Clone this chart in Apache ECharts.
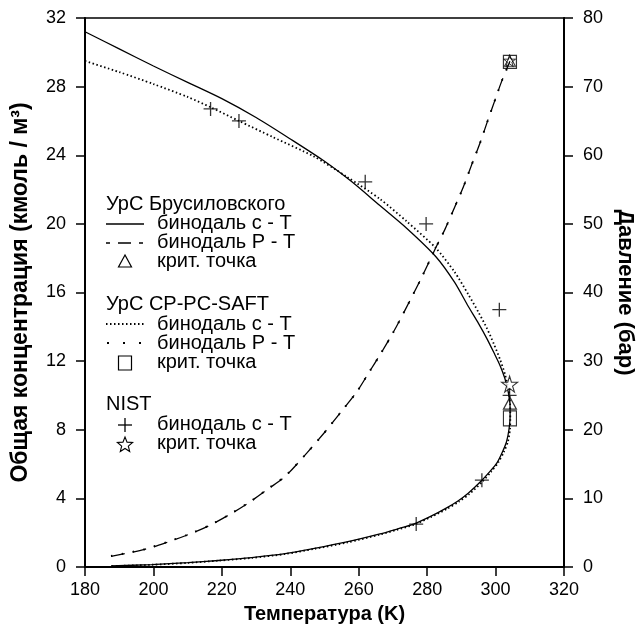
<!DOCTYPE html>
<html>
<head>
<meta charset="utf-8">
<script src="https://cdn.jsdelivr.net/npm/echarts@6/dist/echarts.min.js"></script>
<style>
  html, body { margin: 0; padding: 0; background: #fff; }
  #chart { width: 637px; height: 630px; }
</style>
</head>
<body>
<div id="chart"></div>
<script>
// CO2 phase envelope: total concentration (left axis) and saturation pressure (right axis)

// Brusilovsky EoS, c–T binodal (liquid branch down to the critical point, then vapour branch)
const brusT = [180, 190, 200, 210, 220, 230, 240, 250, 258, 266, 274, 282.5, 288, 292, 295, 297.5, 299.5, 301.3, 302.7, 303.6, 304.2,
               304.25, 303.9, 303.2, 302, 300.5, 298.5, 295.5, 292, 289, 285.7, 281, 276, 271, 266.2, 256.5, 246.7, 238.5, 228.7, 219, 210, 199.5, 187.6];
const brusC = [31.2, 30.2, 29.2, 28.25, 27.3, 26.2, 24.95, 23.65, 22.45, 21.1, 19.75, 18.1, 16.6, 15.2, 14.2, 13.3, 12.5, 11.75, 11.0, 10.3, 9.55,
               8.8, 8.0, 7.3, 6.7, 6.1, 5.6, 4.95, 4.3, 3.85, 3.45, 2.95, 2.5, 2.2, 1.93, 1.46, 1.07, 0.78, 0.55, 0.38, 0.25, 0.14, 0.06];

// CP-PC-SAFT EoS, c–T binodal
const saftT = [180, 190, 200, 210, 216.7, 225, 235, 246.7, 256.5, 266.2, 274, 282.5, 288, 292, 295, 297.5, 299.5, 301.3, 302.8, 303.8, 304.25, 304.3,
               304.2, 303.6, 302.4, 300.8, 298.7, 295.8, 292.3, 289.2, 285.9, 281.2, 276.2, 271.2, 266.4, 256.7, 246.8, 238.6, 228.8, 219, 210, 199.5, 187.6];
const saftC = [29.5, 28.85, 28.15, 27.4, 26.8, 26.0, 25.05, 23.95, 22.75, 21.45, 20.15, 18.6, 17.2, 15.9, 14.85, 13.9, 13.0, 12.1, 11.2, 10.3, 9.5, 8.66,
               8.0, 7.3, 6.7, 6.1, 5.55, 4.9, 4.25, 3.8, 3.4, 2.92, 2.47, 2.17, 1.9, 1.43, 1.05, 0.76, 0.53, 0.37, 0.24, 0.13, 0.05];

// P–T binodal (saturation pressure, bar)
const pvT   = [187.6, 197.5, 204.3, 210.2, 216.5, 222.4, 228.2, 233.6, 238.5, 245, 250, 254.5, 259.4, 263.3, 266.2, 270.1, 273.5, 278, 282.8,
               285.2, 288.1, 290.6, 293, 295.4, 297.6, 299.8, 301.8, 304.2];
const brusP = [1.56, 2.58, 3.65, 4.72, 6.08, 7.68, 9.48, 11.4, 13.2, 16.7, 19.6, 22.4, 25.5, 28.6, 30.9, 34.2, 37.4, 41.8, 46.8,
               49.2, 52.5, 55.4, 58.6, 61.7, 64.9, 68.0, 70.8, 73.7];
const saftP = [1.6, 2.6, 3.7, 4.75, 6.1, 7.7, 9.5, 11.45, 13.25, 16.7, 19.6, 22.4, 25.5, 28.6, 30.9, 34.2, 37.4, 41.8, 46.8,
               49.2, 52.5, 55.4, 58.6, 61.7, 64.9, 68.0, 70.8, 73.6];

// NIST reference data, c–T binodal
const nistT = [216.7, 225, 261.9, 279.7, 301.1, 304.1, 296, 276.8];
const nistC = [26.7, 26.0, 22.45, 20.0, 15.0, 10.0, 5.06, 2.5];

// Critical points: [T, c, P]
const critBrus = [304.2, 9.55, 73.7];
const critSaft = [304.2, 8.66, 73.6];
const critNist = [304.1, 10.66, 73.8];

const zip = (a, b) => a.map((v, i) => [v, b[i]]);

const FONT = 'Liberation Sans, Arial, sans-serif';
const STAR = 'path://M50,0 L61,35 L98,35 L68,57 L79,91 L50,70 L21,91 L32,57 L2,35 L39,35 Z';
const CROSS = 'path://M0,6 L12,6 M6,0 L6,12';

function starPoints(cx, cy, R, r) {
  const pts = [];
  for (let i = 0; i < 10; i++) {
    const a = -Math.PI / 2 + i * Math.PI / 5;
    const rr = i % 2 === 0 ? R : r;
    pts.push([cx + rr * Math.cos(a), cy + rr * Math.sin(a)]);
  }
  return pts;
}

const chart = echarts.init(document.getElementById('chart'), null, { renderer: 'canvas' });

const textStyle = { fill: '#000', font: '20px ' + FONT, textVerticalAlign: 'middle' };
const lx = 106, tx = 157, sx = 125;
const txt = (x, y, s) => ({ type: 'text', x: x, y: y, style: Object.assign({ text: s }, textStyle) });

// Legend, drawn as three groups with headings
const legendGraphics = [
  txt(lx, 204, 'УрС Брусиловского'),
  { type: 'line', shape: { x1: 106, y1: 224, x2: 144, y2: 224 }, style: { stroke: '#000', lineWidth: 1.3 } },
  txt(tx, 223.5, 'бинодаль с - Т'),
  { type: 'line', shape: { x1: 106, y1: 243, x2: 145, y2: 243 }, style: { stroke: '#000', lineWidth: 1.3, lineDash: [4, 8, 13, 8] } },
  txt(tx, 242.5, 'бинодаль P - Т'),
  { type: 'polygon', shape: { points: [[sx, 255], [sx - 6.5, 267], [sx + 6.5, 267]] }, style: { fill: 'none', stroke: '#000', lineWidth: 1.2 } },
  txt(tx, 261, 'крит. точка'),

  txt(lx, 304, 'УрС CP-PC-SAFT'),
  { type: 'line', shape: { x1: 106, y1: 324, x2: 144, y2: 324 }, style: { stroke: '#000', lineWidth: 1.8, lineDash: [1.5, 2.5] } },
  txt(tx, 324, 'бинодаль с - Т'),
  { type: 'line', shape: { x1: 107, y1: 343, x2: 145, y2: 343 }, style: { stroke: '#000', lineWidth: 2, lineDash: [2, 14] } },
  txt(tx, 343, 'бинодаль P - Т'),
  { type: 'rect', shape: { x: sx - 6.5, y: 356, width: 13, height: 14 }, style: { fill: 'none', stroke: '#000', lineWidth: 1.2 } },
  txt(tx, 362, 'крит. точка'),

  txt(lx, 404, 'NIST'),
  { type: 'line', shape: { x1: sx - 7, y1: 425, x2: sx + 7, y2: 425 }, style: { stroke: '#000', lineWidth: 1.3 } },
  { type: 'line', shape: { x1: sx, y1: 418, x2: sx, y2: 432 }, style: { stroke: '#000', lineWidth: 1.3 } },
  txt(tx, 424.5, 'бинодаль с - Т'),
  { type: 'polygon', shape: { points: starPoints(sx, 445, 8, 3.5) }, style: { fill: '#fff', stroke: '#000', lineWidth: 1.1 } },
  txt(tx, 443.5, 'крит. точка')
];

const axisCommon = {
  axisLine: { show: true, lineStyle: { color: '#000', width: 2 } },
  axisTick: { show: true, inside: false, length: 9, lineStyle: { color: '#000', width: 1.5 } },
  splitLine: { show: false },
  nameMoveOverlap: false
};

const option = {
  backgroundColor: '#fff',
  animation: false,
  grid: {
    left: 85, right: 73, top: 18, bottom: 63,
    outerBoundsMode: 'none', containLabel: false,
    show: true, borderColor: '#000', borderWidth: 1.5
  },
  xAxis: Object.assign({
    type: 'value', min: 180, max: 320, interval: 20,
    name: 'Температура (K)', nameLocation: 'middle', nameGap: 37,
    nameTextStyle: { fontFamily: FONT, fontSize: 20, fontWeight: 'bold', color: '#000' },
    axisLabel: { margin: 14, fontFamily: FONT, fontSize: 18, color: '#000' }
  }, axisCommon),
  yAxis: [
    Object.assign({
      type: 'value', min: 0, max: 32, interval: 4, position: 'left',
      name: 'Общая концентрация (кмоль / м³)', nameLocation: 'middle', nameGap: 53,
      nameTextStyle: { fontFamily: FONT, fontSize: 23, fontWeight: 'bold', color: '#000' },
      axisLabel: { margin: 19, fontFamily: FONT, fontSize: 18, color: '#000' }
    }, axisCommon),
    Object.assign({
      type: 'value', min: 0, max: 80, interval: 10, position: 'right',
      name: 'Давление (бар)', nameLocation: 'middle', nameGap: 50, nameRotate: -90,
      nameTextStyle: { fontFamily: FONT, fontSize: 22, fontWeight: 'bold', color: '#000' },
      axisLabel: { margin: 19, fontFamily: FONT, fontSize: 18, color: '#000' }
    }, axisCommon)
  ],
  series: [
    {
      name: 'Брусиловский c-T', type: 'line', yAxisIndex: 0, data: zip(brusT, brusC),
      showSymbol: false, smooth: 0.25, lineStyle: { color: '#000', width: 1.3 }
    },
    {
      name: 'SAFT c-T', type: 'line', yAxisIndex: 0, data: zip(saftT, saftC),
      showSymbol: false, smooth: 0.25, lineStyle: { color: '#000', width: 1.8, type: [1.5, 2.5] }
    },
    {
      name: 'Брусиловский P-T', type: 'line', yAxisIndex: 1, data: zip(pvT, brusP),
      showSymbol: false, smooth: 0.3, lineStyle: { color: '#000', width: 1.3, type: [14, 8] }
    },
    {
      name: 'SAFT P-T', type: 'line', yAxisIndex: 1, data: zip(pvT, saftP),
      showSymbol: false, smooth: 0.3, lineStyle: { color: '#000', width: 2, type: [1.5, 9.5] }
    },
    {
      name: 'NIST c-T', type: 'scatter', yAxisIndex: 0, data: zip(nistT, nistC),
      symbol: CROSS, symbolSize: 14,
      itemStyle: { color: 'none', borderColor: '#000', borderWidth: 1.3 }, z: 5
    },
    {
      name: 'Брусиловский крит.', type: 'scatter', yAxisIndex: 0, data: [[critBrus[0], critBrus[1]]],
      symbol: 'triangle', symbolSize: [13, 12],
      itemStyle: { color: 'none', borderColor: '#000', borderWidth: 1.2 }, z: 6
    },
    {
      name: 'SAFT крит.', type: 'scatter', yAxisIndex: 0, data: [[critSaft[0], critSaft[1]]],
      symbol: 'rect', symbolSize: [13, 15],
      itemStyle: { color: 'none', borderColor: '#000', borderWidth: 1.2 }, z: 6
    },
    {
      name: 'NIST крит.', type: 'scatter', yAxisIndex: 0, data: [[critNist[0], critNist[1]]],
      symbol: STAR, symbolSize: 16,
      itemStyle: { color: '#fff', borderColor: '#000', borderWidth: 1.1 }, z: 7
    },
    {
      name: 'SAFT крит. P', type: 'scatter', yAxisIndex: 1, data: [[critSaft[0], critSaft[2]]],
      symbol: 'rect', symbolSize: [13, 13],
      itemStyle: { color: 'none', borderColor: '#000', borderWidth: 1.2 }, z: 6
    },
    {
      name: 'Брусиловский крит. P', type: 'scatter', yAxisIndex: 1, data: [[critBrus[0], critBrus[2]]],
      symbol: 'triangle', symbolSize: [11, 10],
      itemStyle: { color: 'none', borderColor: '#000', borderWidth: 1 }, z: 6
    },
    {
      name: 'NIST крит. P', type: 'scatter', yAxisIndex: 1, data: [[critNist[0], critNist[2]]],
      symbol: STAR, symbolSize: 12,
      itemStyle: { color: 'none', borderColor: '#000', borderWidth: 1 }, z: 7
    }
  ],
  graphic: legendGraphics
};

chart.setOption(option);
</script>
</body>
</html>
